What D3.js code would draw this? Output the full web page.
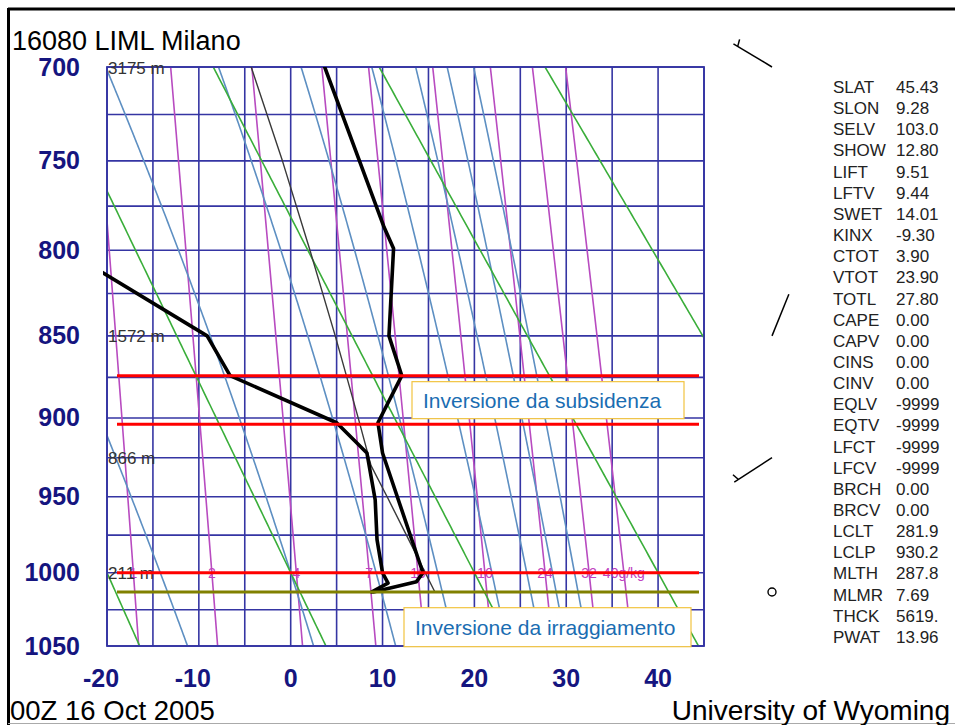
<!DOCTYPE html>
<html><head><meta charset="utf-8">
<script src="https://cdn.jsdelivr.net/npm/d3@7"></script>
<style>
body{margin:0;background:#fff;}
svg{display:block;font-family:"Liberation Sans",Arial,Helvetica,sans-serif;}
</style></head><body>
<svg id="c" width="955" height="725"></svg>
<script>
// ---------- data ----------
const pressureTicks = [700, 750, 800, 850, 900, 950, 1000, 1050];
const gridPressures = [700,725,750,775,800,825,850,875,900,925,950,975,1000,1025,1050];
const tempTicks = [-20, -10, 0, 10, 20, 30, 40];
const gridTemps = [-20,-15,-10,-5,0,5,10,15,20,25,30,35,40,45];

const tempPressures = [1013, 1006, 1000, 922, 903, 874, 850, 799, 786, 700];
const tempValues    = [9.0, 13.7, 14.4, 10.0, 9.5, 12.1, 10.7, 11.2, 10.1, 3.7];
const dewPressures  = [1013, 1007, 1000, 978, 952, 922, 903, 874, 850, 800];
const dewValues     = [8.8, 10.6, 10.0, 9.4, 9.2, 8.3, 5.0, -6.6, -9.1, -24.5];
const parcelPressures = [1013, 1000, 975, 950, 930, 900, 850, 800, 750, 700];
const parcelValues    = [15.7, 14.65, 12.6, 10.5, 8.75, 7.35, 4.85, 2.1, -0.9, -4.3];

const dryAdiabatThetas = [-20, 0, 20, 40, 60];          // °C at 1000 hPa
const moistAdiabatThetaW = [-14.2, 0, 9.3, 16, 21.9, 25.7, 28.5, 30.9]; // °C at 1000 hPa
const mixingRatios = [1, 2, 4, 7, 10, 16, 24, 32, 40];  // g/kg
const mixingLabels = ["1", "2", "4", "7", "10", "16", "24", "32", "40g/kg"];

const heightLevels = [700, 850, 925, 1000];
const heightLabels = ["3175 m", "1572 m", "866 m", "211 m"];

const windPressures = [700, 850, 925, 1013];
const windDirs = [301, 22, 237, 0];
const windSpeeds = [5, 3, 5, 0];

const redLevels = [874, 904, 1000];
const oliveLevels = [1013];

const statNames = ["SLAT","SLON","SELV","SHOW","LIFT","LFTV","SWET","KINX","CTOT","VTOT","TOTL","CAPE","CAPV","CINS","CINV","EQLV","EQTV","LFCT","LFCV","BRCH","BRCV","LCLT","LCLP","MLTH","MLMR","THCK","PWAT"];
const statValues = ["45.43","9.28","103.0","12.80","9.51","9.44","14.01","-9.30","3.90","23.90","27.80","0.00","0.00","0.00","0.00","-9999","-9999","-9999","-9999","0.00","0.00","281.9","930.2","287.8","7.69","5619.","13.96"];

const notes = [
  {text: "Inversione da subsidenza", p: 889},
  {text: "Inversione da irraggiamento", p: 1037}
];

// ---------- scales ----------
const svg = d3.select("#c");
const x = d3.scaleLinear().domain([-20, 45]).range([107, 704]);
const y = d3.scalePow().exponent(0.286).domain([700, 1050]).range([67, 646]);
const X0 = x(-20), X1 = x(45), Y0 = y(700), Y1 = y(1050);

// frame around image
svg.append("line").attr("x1",8).attr("x2",955).attr("y1",9).attr("y2",9).attr("stroke","#000").attr("stroke-width",3);
svg.append("line").attr("x1",8.5).attr("x2",8.5).attr("y1",8).attr("y2",725).attr("stroke","#000").attr("stroke-width",3);
svg.append("line").attr("x1",8).attr("x2",955).attr("y1",723.5).attr("y2",723.5).attr("stroke","#aaa").attr("stroke-width",1);

const defs = svg.append("defs");
defs.append("clipPath").attr("id","plotclip").append("rect")
  .attr("x",X0).attr("y",Y0).attr("width",X1-X0).attr("height",Y1-Y0);
defs.append("clipPath").attr("id","profclip").append("rect")
  .attr("x",X0-4).attr("y",Y0).attr("width",X1-X0+4).attr("height",Y1-Y0);

// ---------- grid ----------
const gridColor = "#3535a3";
const g = svg.append("g");
g.selectAll(".vg").data(gridTemps).join("line")
  .attr("x1",d=>x(d)).attr("x2",d=>x(d)).attr("y1",Y0).attr("y2",Y1)
  .attr("stroke",gridColor).attr("stroke-width",1.6);
g.selectAll(".hg").data(gridPressures).join("line")
  .attr("x1",X0).attr("x2",X1).attr("y1",d=>y(d)).attr("y2",d=>y(d))
  .attr("stroke",gridColor).attr("stroke-width",1.6);

// ---------- thermodynamic helpers ----------
const pGrid = d3.range(700, 1051, 2);
function esat(tc){ return 6.112*Math.exp(17.67*tc/(tc+243.5)); }
function tFromMixing(w, p){
  const e = w*p/(622+w); const l = Math.log(e/6.112);
  return 243.5*l/(17.67-l);
}
function lapse(p, tk){
  const es = esat(tk-273.15); const rs = 0.622*es/(p-es);
  return (287.04*tk + 2.501e6*rs)/(1005.7 + 2.501e6*2.501e6*rs*0.622/(287.04*tk*tk))/p;
}
function moistPath(tw){
  const run = (pEnd, step) => {
    let p = 1000, t = tw + 273.15; const out = [[p, t-273.15]];
    while ((step<0 && p>pEnd) || (step>0 && p<pEnd)){
      const k1 = lapse(p, t), k2 = lapse(p+step/2, t+k1*step/2),
            k3 = lapse(p+step/2, t+k2*step/2), k4 = lapse(p+step, t+k3*step);
      t += step*(k1+2*k2+2*k3+k4)/6; p += step; out.push([p, t-273.15]);
    }
    return out;
  };
  const up = run(700, -1).reverse(); const down = run(1050, 1).slice(1);
  return up.concat(down);
}
const line = d3.line().x(d=>x(d[1])).y(d=>y(d[0]));

const iso = svg.append("g").attr("clip-path","url(#plotclip)").attr("fill","none");
iso.selectAll(".mr").data(mixingRatios).join("path")
  .attr("d", w => line(pGrid.map(p=>[p, tFromMixing(w,p)])))
  .attr("stroke","#b84bc0").attr("stroke-width",1.6);
iso.selectAll(".ma").data(moistAdiabatThetaW).join("path")
  .attr("d", tw => line(moistPath(tw)))
  .attr("stroke","#5d8fc2").attr("stroke-width",1.6);
iso.selectAll(".da").data(dryAdiabatThetas).join("path")
  .attr("d", th => line(pGrid.map(p=>[p, (th+273.15)*Math.pow(p/1000,0.286)-273.15])))
  .attr("stroke","#3aae3a").attr("stroke-width",1.6);

svg.append("rect").attr("x",X0).attr("y",Y0).attr("width",X1-X0).attr("height",Y1-Y0)
  .attr("fill","none").attr("stroke",gridColor).attr("stroke-width",1.8);

// mixing ratio labels
svg.selectAll(".mrl").data(mixingRatios).join("text")
  .attr("x", w => x(tFromMixing(w,1000))).attr("y", y(1000)+5)
  .attr("text-anchor","middle").attr("font-size",14).attr("fill","#c040c0")
  .text((w,i)=>mixingLabels[i]);

// height labels
svg.selectAll(".hl").data(heightLevels).join("text")
  .attr("x",108).attr("y",d=>y(d)+6.5).attr("font-size",17).attr("fill","#333")
  .text((d,i)=>heightLabels[i]);

// ---------- profiles ----------
const prof = svg.append("g").attr("clip-path","url(#profclip)").attr("fill","none")
  .attr("stroke-linejoin","round").attr("stroke-linecap","round");
prof.append("path").attr("d", line(parcelPressures.map((p,i)=>[p,parcelValues[i]])))
  .attr("stroke","#3a3a3a").attr("stroke-width",1.4);
prof.append("path").attr("d", line(dewPressures.map((p,i)=>[p,dewValues[i]])))
  .attr("stroke","#000").attr("stroke-width",3.6);
prof.append("path").attr("d", line(tempPressures.map((p,i)=>[p,tempValues[i]])))
  .attr("stroke","#000").attr("stroke-width",3.6);

// ---------- annotation lines ----------
svg.selectAll(".rl").data(redLevels).join("line")
  .attr("x1",117).attr("x2",699).attr("y1",d=>y(d)).attr("y2",d=>y(d))
  .attr("stroke","#ff0000").attr("stroke-width",3);
svg.selectAll(".ol").data(oliveLevels).join("line")
  .attr("x1",117).attr("x2",699).attr("y1",d=>y(d)).attr("y2",d=>y(d))
  .attr("stroke","#808000").attr("stroke-width",3);

// note boxes
const boxes = [{x:412, w:272, h:37}, {x:404, w:287, h:39}];
notes.forEach((n,i)=>{
  const cy = y(n.p), b = boxes[i];
  svg.append("rect").attr("x",b.x).attr("y",cy-b.h/2).attr("width",b.w).attr("height",b.h)
    .attr("fill","#fff").attr("stroke","#f2c440").attr("stroke-width",1.2);
  svg.append("text").attr("x",b.x+11).attr("y",cy+7.5)
    .attr("font-size",21).attr("fill","#1a6db2").text(n.text);
});

// ---------- axes labels ----------
svg.selectAll(".yl").data(pressureTicks).join("text")
  .attr("x",80).attr("y",d=>y(d)+8.5).attr("text-anchor","end")
  .attr("font-size",25).attr("font-weight","bold").attr("fill","#15157f").text(d=>d);
svg.selectAll(".xl").data(tempTicks).join("text")
  .attr("x",d=>x(d)).attr("dx",d=>d<0?-6:0).attr("y",687).attr("text-anchor","middle")
  .attr("font-size",25).attr("font-weight","bold").attr("fill","#15157f").text(d=>d);

// titles
svg.append("text").attr("x",12).attr("y",50).attr("font-size",27).attr("fill","#000").text("16080 LIML Milano");
svg.append("text").attr("x",10).attr("y",720).attr("font-size",27.5).attr("fill","#000").text("00Z 16 Oct 2005");
svg.append("text").attr("x",950).attr("y",720).attr("text-anchor","end").attr("font-size",28).attr("fill","#000").text("University of Wyoming");

// ---------- stats ----------
statNames.forEach((s,i)=>{
  const yy = 93 + i*21.15;
  svg.append("text").attr("x",833).attr("y",yy).attr("font-size",17).attr("fill","#222").text(s);
  svg.append("text").attr("x",896).attr("y",yy).attr("font-size",17).attr("fill","#222").text(statValues[i]);
});

// ---------- wind barbs ----------
const bx = 772, L = 45;
windPressures.forEach((p,i)=>{
  const by = y(p), sp = windSpeeds[i], d = windDirs[i]*Math.PI/180;
  if (sp === 0){
    svg.append("circle").attr("cx",bx).attr("cy",by).attr("r",4).attr("fill","none")
      .attr("stroke","#000").attr("stroke-width",1.4);
    return;
  }
  const ux = Math.sin(d), uy = -Math.cos(d);
  const tx = bx+L*ux, ty = by+L*uy;
  svg.append("line").attr("x1",bx).attr("y1",by).attr("x2",tx).attr("y2",ty)
    .attr("stroke","#000").attr("stroke-width",1.5);
  if (sp >= 5){
    const px = -uy, py = ux;
    const sx = tx - 5*ux, sy = ty - 5*uy;
    svg.append("line").attr("x1",sx).attr("y1",sy).attr("x2",sx+7*px+2*ux).attr("y2",sy+7*py+2*uy)
      .attr("stroke","#000").attr("stroke-width",1.5);
  }
});
</script>
</body></html>
